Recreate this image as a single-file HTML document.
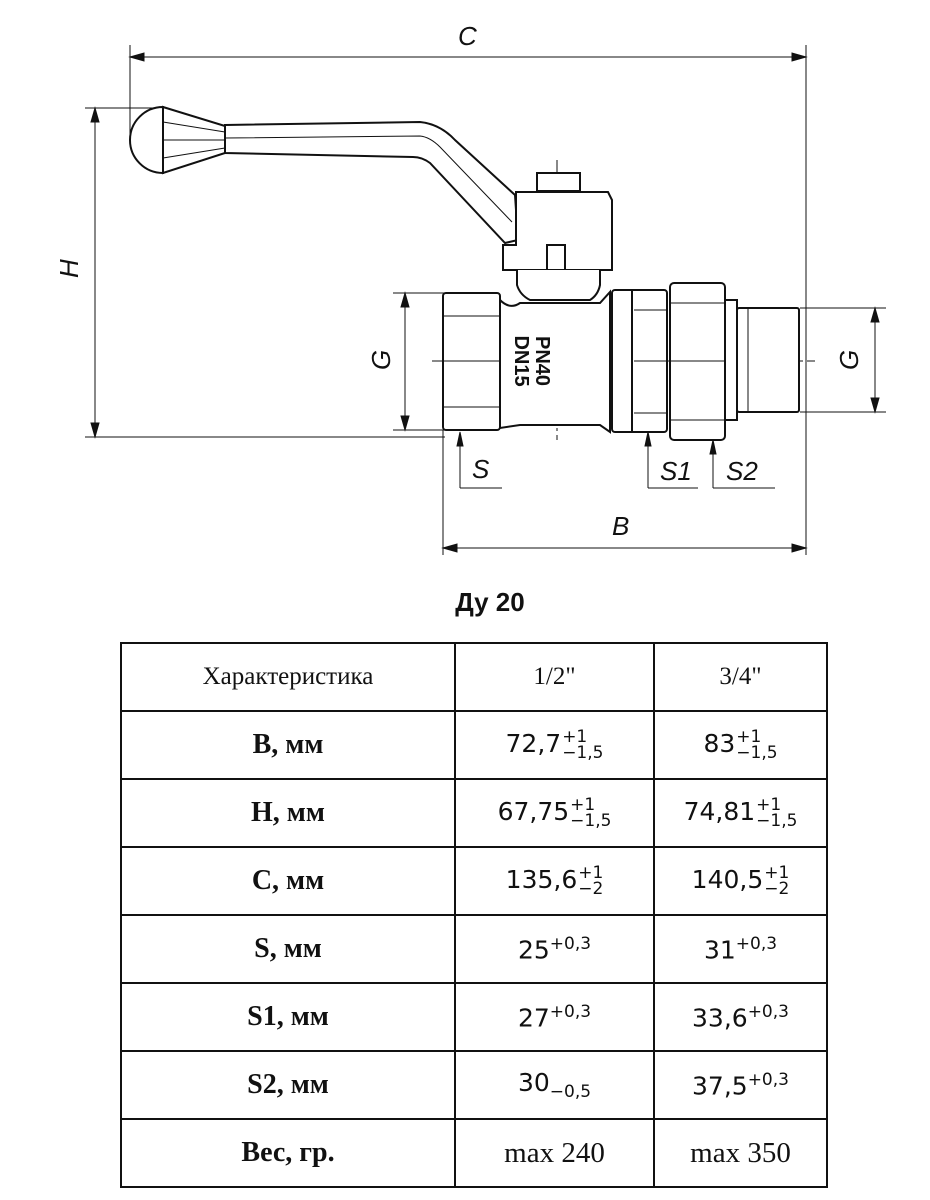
<!DOCTYPE html>
<html><head><meta charset="utf-8"><style>
body{margin:0;background:#fff;width:930px;height:1200px;position:relative;overflow:hidden}
svg{position:absolute;left:0;top:0}
table{position:absolute;left:120px;top:642px;border-collapse:collapse;font-family:"Liberation Serif",serif}
td{border:2px solid #111;height:66px;text-align:center;padding:0;font-size:25px;color:#111}
td.h{font-weight:bold;font-size:28px}
.n{font-family:"DejaVu Sans","Liberation Sans",sans-serif;font-size:25px}
.t{display:inline-block;vertical-align:middle;font-size:17px;line-height:16px;text-align:left;margin-left:1px}
sup{font-size:17px}
</style></head><body>
<svg width="930" height="640" viewBox="0 0 930 640" font-family="Liberation Sans,sans-serif">
<g stroke="#111" fill="none" stroke-width="1">
<line x1="130" y1="45" x2="130" y2="140"/><line x1="806" y1="45" x2="806" y2="555"/>
<line x1="130" y1="57" x2="806" y2="57"/>
<path d="M130 57l14 -4v8z M806 57l-14 -4v8z" fill="#111"/>
<line x1="85" y1="108" x2="160" y2="108"/><line x1="85" y1="437" x2="445" y2="437"/>
<line x1="95" y1="108" x2="95" y2="437"/>
<path d="M95 108l-4 14h8z M95 437l-4 -14h8z" fill="#111"/>
<line x1="393" y1="293" x2="445" y2="293"/><line x1="393" y1="430" x2="445" y2="430"/>
<line x1="405" y1="293" x2="405" y2="430"/>
<path d="M405 293l-4 14h8z M405 430l-4 -14h8z" fill="#111"/>
<line x1="800" y1="308" x2="886" y2="308"/><line x1="800" y1="412" x2="886" y2="412"/>
<line x1="875" y1="308" x2="875" y2="412"/>
<path d="M875 308l-4 14h8z M875 412l-4 -14h8z" fill="#111"/>
<line x1="443" y1="430" x2="443" y2="555"/>
<line x1="443" y1="548" x2="806" y2="548"/>
<path d="M443 548l14 -4v8z M806 548l-14 -4v8z" fill="#111"/>
<line x1="460" y1="432" x2="460" y2="488"/><line x1="460" y1="488" x2="502" y2="488"/>
<path d="M460 432l-3 14h6z" fill="#111"/>
<line x1="648" y1="432" x2="648" y2="488"/><line x1="648" y1="488" x2="698" y2="488"/>
<path d="M648 432l-3 14h6z" fill="#111"/>
<line x1="713" y1="440" x2="713" y2="488"/><line x1="713" y1="488" x2="775" y2="488"/>
<path d="M713 440l-3 14h6z" fill="#111"/>
<line x1="432" y1="361" x2="815" y2="361" stroke-dasharray="14 4 3 4"/>
<line x1="557" y1="160" x2="557" y2="440" stroke-dasharray="14 4 3 4"/>
</g>
<g stroke="#111" fill="#fff" stroke-width="2">
<path d="M163 107 A33 33 0 0 0 163 173 Z"/>
<path d="M163 107 L225 126 L225 153 L163 173 Z"/>
<line x1="163" y1="122" x2="225" y2="132" stroke-width="1"/><line x1="163" y1="158" x2="225" y2="148" stroke-width="1"/>
<line x1="163" y1="140" x2="225" y2="140" stroke-width="1"/>
<path d="M225 125 L420 122 Q440 124 455 140 L515 195 L518 240 L505 243 L430 163 Q422 157 413 157 L225 153 Z"/>
<path d="M225 138 L420 136 Q430 137 440 147 L512 222" fill="none" stroke-width="1"/>
<rect x="537" y="173" width="43" height="18"/>
<path d="M516 192 L608 192 L612 200 L612 270 L503 270 L503 245 L516 245 Z"/>
<rect x="547" y="245" width="18" height="25"/>
<path d="M517 270 L517 285 Q520 295 530 300 L590 300 Q598 295 600 285 L600 270" />
<path d="M500 300 Q510 310 520 303 L600 303 L610 292 L610 432 L600 425 L520 425 L500 428 Z"/>
<rect x="443" y="293" width="57" height="137" rx="3"/>
<line x1="443" y1="316" x2="500" y2="316" stroke-width="1"/><line x1="443" y1="361" x2="500" y2="361" stroke-width="1"/><line x1="443" y1="407" x2="500" y2="407" stroke-width="1"/>
<rect x="612" y="290" width="55" height="142" rx="3"/>
<line x1="632" y1="290" x2="632" y2="432"/>
<line x1="634" y1="310" x2="667" y2="310" stroke-width="1"/><line x1="634" y1="361" x2="667" y2="361" stroke-width="1"/><line x1="634" y1="413" x2="667" y2="413" stroke-width="1"/>
<rect x="670" y="283" width="55" height="157" rx="4"/>
<line x1="670" y1="303" x2="725" y2="303" stroke-width="1"/><line x1="670" y1="361" x2="725" y2="361" stroke-width="1"/><line x1="670" y1="420" x2="725" y2="420" stroke-width="1"/>
<rect x="725" y="300" width="12" height="120"/>
<rect x="737" y="308" width="62" height="104" rx="2"/>
<line x1="748" y1="308" x2="748" y2="412" stroke-width="1"/>
</g>
<text transform="translate(536 361) rotate(90)" font-size="20" font-weight="bold" text-anchor="middle" fill="#111">PN40</text>
<text transform="translate(515 361) rotate(90)" font-size="20" font-weight="bold" text-anchor="middle" fill="#111">DN15</text>
<g font-style="italic" font-size="26" fill="#111">
<text x="458" y="45">C</text>
<text transform="translate(78 278) rotate(-90)">H</text>
<text transform="translate(390 370) rotate(-90)">G</text>
<text transform="translate(858 370) rotate(-90)">G</text>
<text x="472" y="478">S</text>
<text x="660" y="480">S1</text>
<text x="726" y="480">S2</text>
<text x="612" y="535">B</text>
</g>
<text x="490" y="611" text-anchor="middle" font-size="26" font-weight="bold" fill="#111">Ду 20</text>
</svg>
<table>
<tr><td style="width:332px;font-size:25px">Характеристика</td><td style="width:197px">1/2"</td><td style="width:171px">3/4"</td></tr>
<tr><td class="h">B, мм</td><td class="n">72,7<span class="t">+1<br>−1,5</span></td><td class="n">83<span class="t">+1<br>−1,5</span></td></tr>
<tr><td class="h">H, мм</td><td class="n">67,75<span class="t">+1<br>−1,5</span></td><td class="n">74,81<span class="t">+1<br>−1,5</span></td></tr>
<tr><td class="h">C, мм</td><td class="n">135,6<span class="t">+1<br>−2</span></td><td class="n">140,5<span class="t">+1<br>−2</span></td></tr>
<tr><td class="h">S, мм</td><td class="n">25<sup>+0,3</sup></td><td class="n">31<sup>+0,3</sup></td></tr>
<tr><td class="h">S1, мм</td><td class="n">27<sup>+0,3</sup></td><td class="n">33,6<sup>+0,3</sup></td></tr>
<tr><td class="h">S2, мм</td><td class="n">30<sub style="font-size:17px">−0,5</sub></td><td class="n">37,5<sup>+0,3</sup></td></tr>
<tr><td class="h">Вес, гр.</td><td style="font-size:29px">max 240</td><td style="font-size:29px">max 350</td></tr>
</table>
</body></html>
